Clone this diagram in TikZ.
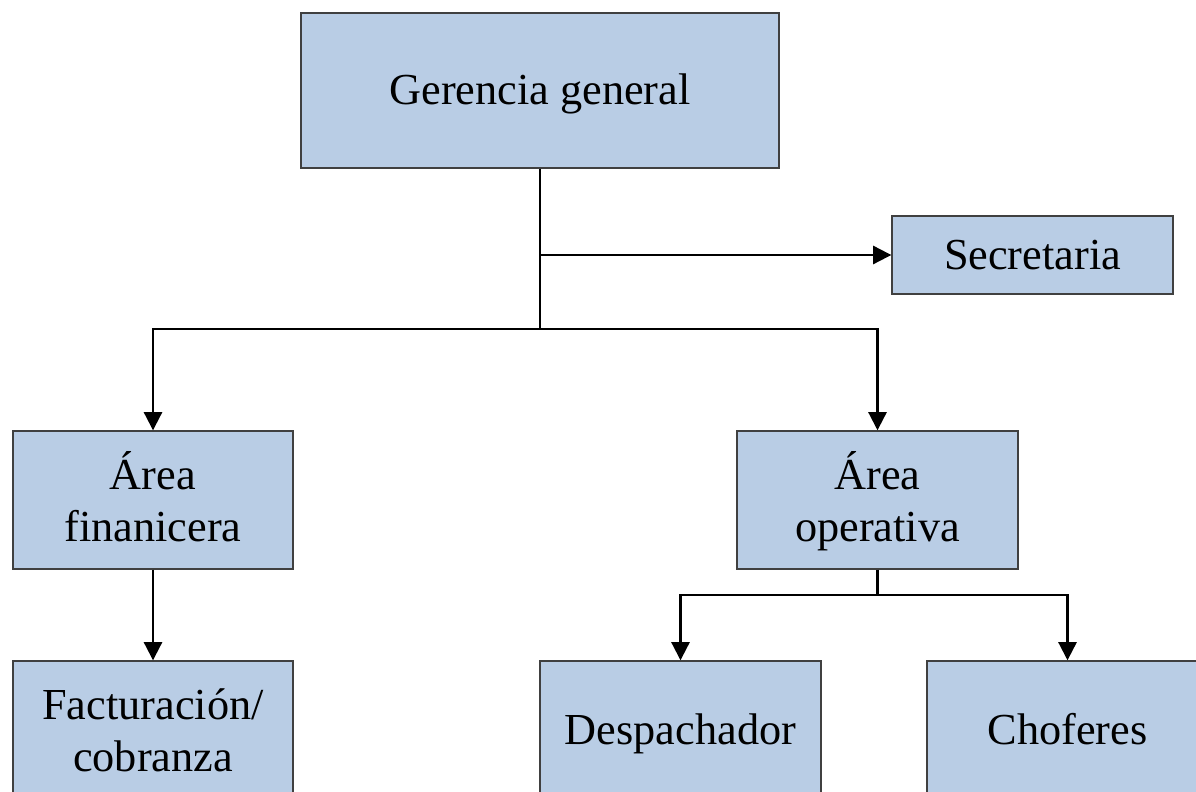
\documentclass[tikz,border=0pt]{standalone}
\usepackage{fontspec}
\setmainfont{Liberation Serif}
\usetikzlibrary{arrows.meta}
\definecolor{boxblue}{HTML}{B9CDE5}
\definecolor{boxedge}{HTML}{404040}
\newcommand{\boxtop}{\rule{0pt}{12.6pt}}
\newcommand{\boxtoptall}{\rule{0pt}{13.3pt}}
\newcommand{\boxbot}{\rule[-4.4pt]{0pt}{4.4pt}}

\begin{document}
\begin{tikzpicture}[
  box/.style={shape=rectangle, draw=boxedge, fill=boxblue, line width=0.4pt, align=center,
    font=\fontsize{12.6}{14.8}\selectfont, inner sep=0pt, minimum width=2.81cm, minimum height=1.38cm,
    execute at begin node=\boxtop, execute at end node=\boxbot},
  link/.style={line width=0.6pt, draw=black},
  arr/.style={link, -{Triangle[length=5.2pt, width=5.2pt]}}]
\useasboundingbox (0,0) rectangle (11.96,7.91);
\clip (0,0) rectangle (11.96,7.91);
\node[box, minimum width=4.78cm, minimum height=1.55cm] (gerencia) at (5.40, 7.005) {Gerencia general};
\node[box, minimum height=0.78cm] (secretaria) at (10.325, 5.36) {Secretaria};
\node[box, minimum width=2.80cm] (financiera) at (1.53, 2.91) {\boxtoptall Área\\finanicera};
\node[box] (operativa) at (8.775, 2.91) {\boxtoptall Área\\operativa};
\node[box, minimum width=2.80cm] (facturacion) at (1.53, 0.61) {\boxtoptall Facturación/\\cobranza};
\node[box] (despachador) at (6.805, 0.61) {Despachador};
\node[box] (choferes) at (10.675, 0.61) {Choferes};
\coordinate (top bar) at (5.40, 4.62);
\coordinate (op bar) at (8.775, 1.96);
\draw[link] (gerencia.south) -- (top bar);
\draw[arr] (gerencia.south |- secretaria.west) -- (secretaria.west);
\draw[arr] (top bar) -| (financiera.north);
\draw[arr] (top bar) -| (operativa.north);
\draw[arr] (financiera.south) -- (facturacion.north);
\draw[link] (operativa.south) -- (op bar);
\draw[arr] (op bar) -| (despachador.north);
\draw[arr] (op bar) -| (choferes.north);
\end{tikzpicture}
\end{document}
